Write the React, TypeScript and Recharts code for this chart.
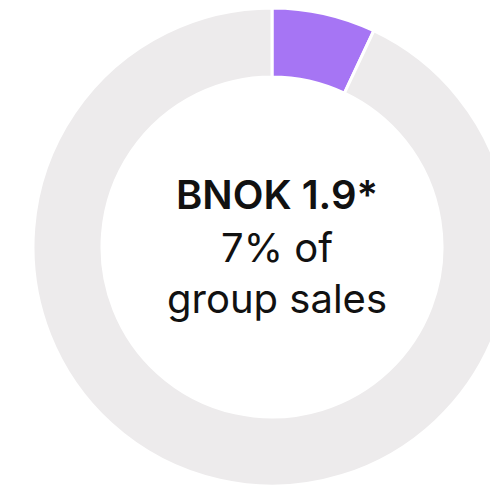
import { Label, Pie, PieChart, Cell } from "recharts";

const segments = ["Segment", "Rest of group"];
const shares = [7, 93];
const colors = ["#a675f4", "#edebec"];
const centerLines = ["BNOK 1.9*", "7% of", "group sales"];

const data = segments.map((name, i) => ({ name, value: shares[i] }));

function CenterText(props: any) {
  const { viewBox } = props;
  const cx = viewBox?.cx ?? 272;
  const cy = viewBox?.cy ?? 247;
  return (
    <g fontFamily="Inter, 'Liberation Sans', sans-serif" fill="#111" textAnchor="middle">
      <text x={cx + 5} y={cy - 38} fontSize={40} fontWeight={600}>
        {centerLines[0]}
      </text>
      <text x={cx + 5} y={cy + 15} fontSize={40}>
        {centerLines[1]}
      </text>
      <text x={cx + 5} y={cy + 66} fontSize={40}>
        {centerLines[2]}
      </text>
    </g>
  );
}

export default function App() {
  return (
    <div style={{ position: "absolute", left: 0, top: 0, width: 490, height: 487, background: "#fff" }}>
      <PieChart width={490} height={487} margin={{ top: 0, right: 0, bottom: 0, left: 0 }}>
        <Pie
          data={data}
          dataKey="value"
          nameKey="name"
          cx={272}
          cy={247}
          innerRadius={170}
          outerRadius={239}
          startAngle={90}
          endAngle={-270}
          stroke="#fff"
          strokeWidth={3}
          isAnimationActive={false}
        >
          {data.map((d, i) => (
            <Cell key={d.name} fill={colors[i]} />
          ))}
          <Label position="center" content={<CenterText />} />
        </Pie>
      </PieChart>
    </div>
  );
}
